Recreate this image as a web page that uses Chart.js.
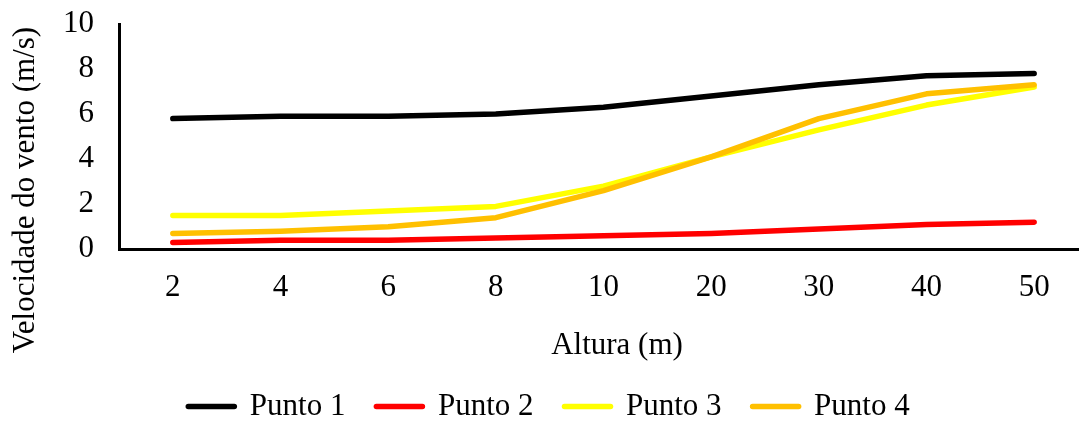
<!DOCTYPE html>
<html>
<head>
<meta charset="utf-8">
<script src="https://cdn.jsdelivr.net/npm/chart.js@4"></script>
<style>
  html, body { margin: 0; padding: 0; background: #fff; overflow: hidden; }
  #wrap { width: 1079px; height: 421px; overflow: hidden; }
  canvas { display: block; }
</style>
</head>
<body>
<div id="wrap"><canvas id="chart" width="1088" height="421"></canvas></div>
<script>
// Altura (m) por ponto de medição
const alturas = ['2', '4', '6', '8', '10', '20', '30', '40', '50'];

// Velocidade do vento (m/s)
const punto1 = [5.8, 5.9, 5.9, 6.0, 6.3, 6.8, 7.3, 7.7, 7.8];
const punto2 = [0.3, 0.4, 0.4, 0.5, 0.6, 0.7, 0.9, 1.1, 1.2];
const punto3 = [1.5, 1.5, 1.7, 1.9, 2.8, 4.1, 5.3, 6.4, 7.2];
const punto4 = [0.7, 0.8, 1.0, 1.4, 2.6, 4.1, 5.8, 6.9, 7.3];

const seriesNames = ['Punto 1', 'Punto 2', 'Punto 3', 'Punto 4'];
const yTicks = [0, 2, 4, 6, 8, 10];
const xTitle = 'Altura (m)';
const yTitle = 'Velocidade do vento (m/s)';

const SERIF = '"Liberation Serif", "Times New Roman", serif';
const FONT_SIZE = 31;
const LINE_W = 5.5;
const LEGEND_H = 61;
const PAD_LEFT = 10;
const PLOT_LEFT = 119;

Chart.defaults.font.family = SERIF;
Chart.defaults.font.size = FONT_SIZE;
Chart.defaults.color = '#000';

const colors = ['#000000', '#FF0000', '#FFFF00', '#FFC000'];
const values = [punto1, punto2, punto3, punto4];
// later series are painted on top of earlier ones
const drawOrder = [3, 2, 1, 0];

const datasets = seriesNames.map((name, i) => ({
  label: name,
  data: values[i],
  borderColor: colors[i],
  backgroundColor: colors[i],
  borderWidth: LINE_W,
  borderCapStyle: 'round',
  borderJoinStyle: 'round',
  pointRadius: 0,
  pointHoverRadius: 0,
  pointBorderWidth: LINE_W,
  tension: 0,
  fill: false,
  order: drawOrder[i]
}));

// axis titles: the value title sits beside the tick labels,
// the category title under the tick row
const axisTitlesPlugin = {
  id: 'axisTitles',
  afterDraw(chart) {
    const ctx = chart.ctx;
    ctx.save();
    ctx.font = FONT_SIZE + 'px ' + SERIF;
    ctx.fillStyle = '#000';
    ctx.textAlign = 'center';
    ctx.textBaseline = 'middle';
    ctx.fillText(xTitle, 617, 346);
    ctx.translate(26, 190);
    ctx.rotate(-Math.PI / 2);
    ctx.fillText(yTitle, 0, 0);
    ctx.restore();
  }
};

new Chart(document.getElementById('chart'), {
  type: 'line',
  data: { labels: alturas, datasets },
  plugins: [axisTitlesPlugin],
  options: {
    responsive: false,
    animation: false,
    devicePixelRatio: 1,
    layout: { padding: { top: 24, right: 0, bottom: 0, left: PAD_LEFT } },
    scales: {
      x: {
        offset: true,
        // room for the category title drawn below the ticks
        afterFit(scale) { scale.height += FONT_SIZE * 1.2 + 1 - (LEGEND_H - 56.4); },
        grid: { display: false, drawTicks: false },
        border: { display: true, color: '#000', width: 3 },
        ticks: { padding: 20, maxRotation: 0, autoSkip: false, color: '#000' }
      },
      y: {
        min: yTicks[0],
        max: yTicks[yTicks.length - 1],
        afterFit(scale) {
          scale.width = PLOT_LEFT - PAD_LEFT;
          scale.paddingTop = 0;
          scale.paddingBottom = 0;
        },
        grid: { display: false, drawTicks: false },
        border: { display: true, color: '#000', width: 3 },
        ticks: { stepSize: yTicks[1] - yTicks[0], padding: 25, color: '#000' }
      }
    },
    plugins: {
      tooltip: { enabled: false },
      legend: {
        position: 'bottom',
        maxHeight: LEGEND_H,
        labels: {
          usePointStyle: true,
          pointStyle: 'line',
          pointStyleWidth: 46,
          padding: 31,
          color: '#000',
          sort: (a, b) => a.datasetIndex - b.datasetIndex,
          generateLabels(chart) {
            return Chart.defaults.plugins.legend.labels.generateLabels(chart)
              .map(item => Object.assign(item, { lineCap: 'round', lineWidth: LINE_W }));
          }
        }
      }
    }
  }
});
</script>
</body>
</html>
